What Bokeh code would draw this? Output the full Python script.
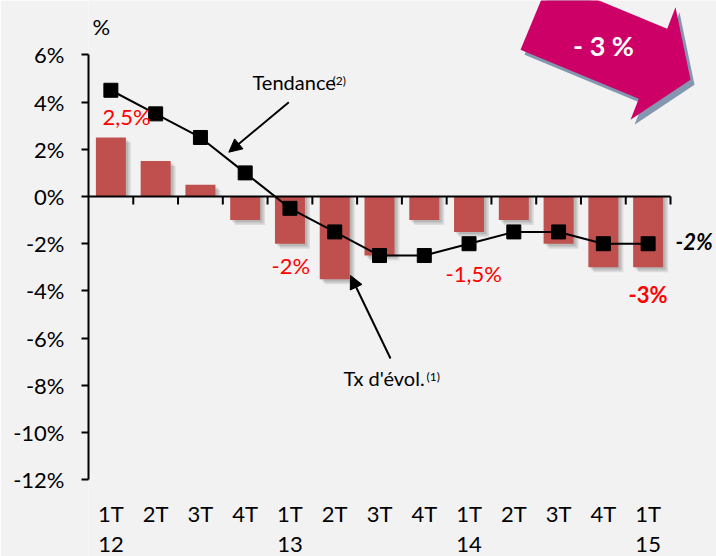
import numpy as np
from bokeh.plotting import figure
from bokeh.models import Range1d, FixedTicker, Label, Arrow, NormalHead
from bokeh.core.properties import value
from bokeh.embed import file_html
from bokeh.resources import INLINE

# ---------------- data ----------------
quarters = ["1T", "2T", "3T", "4T", "1T", "2T", "3T", "4T", "1T", "2T", "3T", "4T", "1T"]
years = ["12", "", "", "", "13", "", "", "", "14", "", "", "", "15"]
tx_evol = [2.5, 1.5, 0.5, -1.0, -2.0, -3.5, -2.5, -1.0, -1.5, -1.0, -2.0, -3.0, -3.0]
tendance = [4.5, 3.5, 2.5, 1.0, -0.5, -1.5, -2.5, -2.5, -2.0, -1.5, -1.5, -2.0, -2.0]
y_ticks = [-12, -10, -8, -6, -4, -2, 0, 2, 4, 6]
y_tick_labels = [f"{t}%" for t in y_ticks]

# ---------------- layout ----------------
W, H = 716, 556
LEFT = 88
PX_X = 44.77   # px per category
PX_Y = 23.61   # px per percentage point
ORG_X = LEFT   # page x of category 0 boundary
ZERO_Y = 196   # page y of 0 %
BASE_FIX = 0.41  # empirical baseline correction (fraction of font size)

def X(px):
    return (px - ORG_X) / PX_X

def Y(py):
    return (ZERO_Y - py) / PX_Y

FONT = "Lato"
BG = "#f2f2f2"
BAR = "#c0504d"
PINK = "#cc0066"

n = len(quarters)
centers = np.arange(n) + 0.5
vals = np.array(tx_evol)

p = figure(width=W, height=H, output_backend="svg", toolbar_location=None,
           x_range=Range1d(0, (W - LEFT) / PX_X),
           y_range=Range1d(Y(H), Y(0)),
           x_axis_type=None,
           min_border_left=LEFT, min_border_right=0, min_border_top=0, min_border_bottom=0)
p.background_fill_color = BG
p.border_fill_color = BG
p.outline_line_color = None
p.grid.visible = False

# y axis
ya = p.yaxis[0]
ya.ticker = FixedTicker(ticks=y_ticks)
ya.major_label_overrides = {t: l for t, l in zip(y_ticks, y_tick_labels)}
ya.bounds = (min(y_ticks), max(y_ticks))
ya.axis_line_width = 2
ya.axis_line_color = "black"
ya.major_tick_line_width = 2
ya.major_tick_line_color = "black"
ya.major_tick_out = 7
ya.major_tick_in = 0
ya.minor_tick_line_color = None
ya.major_label_standoff = 17
ya.major_label_text_font = FONT
ya.major_label_text_font_size = "22px"
ya.major_label_text_color = "black"

# bar shadows
half = 0.335
for k in (2.0, 3.5, 5.0):
    top = np.where(vals > 0, vals - k / PX_Y, 0.0)
    bot = np.where(vals < 0, vals - k / PX_Y, 0.0)
    p.quad(left=centers - half + k / PX_X, right=centers + half + k / PX_X,
           top=top, bottom=bot, fill_color="black", fill_alpha=0.09, line_color=None)

# bars
p.vbar(x=centers, top=tx_evol, bottom=0, width=2 * half, fill_color=BAR, line_color=None)

# zero axis line with category ticks
bounds_x = np.arange(1, n + 1)
p.segment(x0=[0], y0=[0], x1=[n], y1=[0], line_color="black", line_width=2)
p.segment(x0=bounds_x, y0=0, x1=bounds_x, y1=-8 / PX_Y, line_color="black", line_width=2)

# trend line
p.line(centers, tendance, line_color="black", line_width=2)
p.scatter(centers, tendance, marker="square", size=14, fill_color="black", line_color="black")

# category labels
p.text(x=centers, y=Y(522 - BASE_FIX * 22), text=quarters, text_align="center",
       text_baseline="alphabetic", text_font=value(FONT), text_font_size="22px", text_color="black")
p.text(x=centers, y=Y(553 - BASE_FIX * 22), text=years, text_align="center",
       text_baseline="alphabetic", text_font=value(FONT), text_font_size="22px", text_color="black")

def lab(txt, px, py, size=22, color="black", style="normal", align="left"):
    p.add_layout(Label(x=X(px), y=Y(py - BASE_FIX * size), text=txt, text_font=FONT,
                       text_font_size=f"{size}px", text_color=color, text_font_style=style,
                       text_align=align, text_baseline="alphabetic"))

lab("%", 92, 35)
lab("2,5%", 102, 125, color="#ff0000")
lab("-2%", 271, 274, color="#ff0000")
lab("-1,5%", 445, 282, color="#ff0000")
lab("-3%", 628, 303, color="#ff0000", style="bold")
lab("-2%", 675, 250, color="black", style="bold italic")
lab("Tendance", 252, 90, size=20)
lab("(2)", 332, 85, size=12)
lab("Tx d'évol.", 343, 386, size=20)
lab("(1)", 426, 381, size=12)

# pointer arrows
for (x0, y0, x1, y1) in [(288.3, 101.7, 228.3, 151.7), (390, 358, 350, 275)]:
    p.add_layout(Arrow(x_start=X(x0), y_start=Y(y0), x_end=X(x1), y_end=Y(y1),
                       line_color="black", line_width=2,
                       end=NormalHead(size=13, fill_color="black", line_color="black")))

# big pink arrow (decoration)
poly = [(520, 49.3), (549, -20.5), (666.7, 28.3), (675, 6.7), (690, 79.3), (630, 119.3), (638.3, 98.3)]
p.patch([X(a + 4) for a, b in poly], [Y(b + 5) for a, b in poly], fill_color="#8497b0",
        line_color=None)
p.patch([X(a) for a, b in poly], [Y(b) for a, b in poly], fill_color=PINK, line_color=None)
lab("- 3 %", 603, 56, size=27, color="white", style="bold", align="center")

html = file_html(p, INLINE)
html = html.replace("<body>", '<body style="background-color:#f2f2f2; overflow:hidden;">', 1)
open("out.html", "w").write(html)
